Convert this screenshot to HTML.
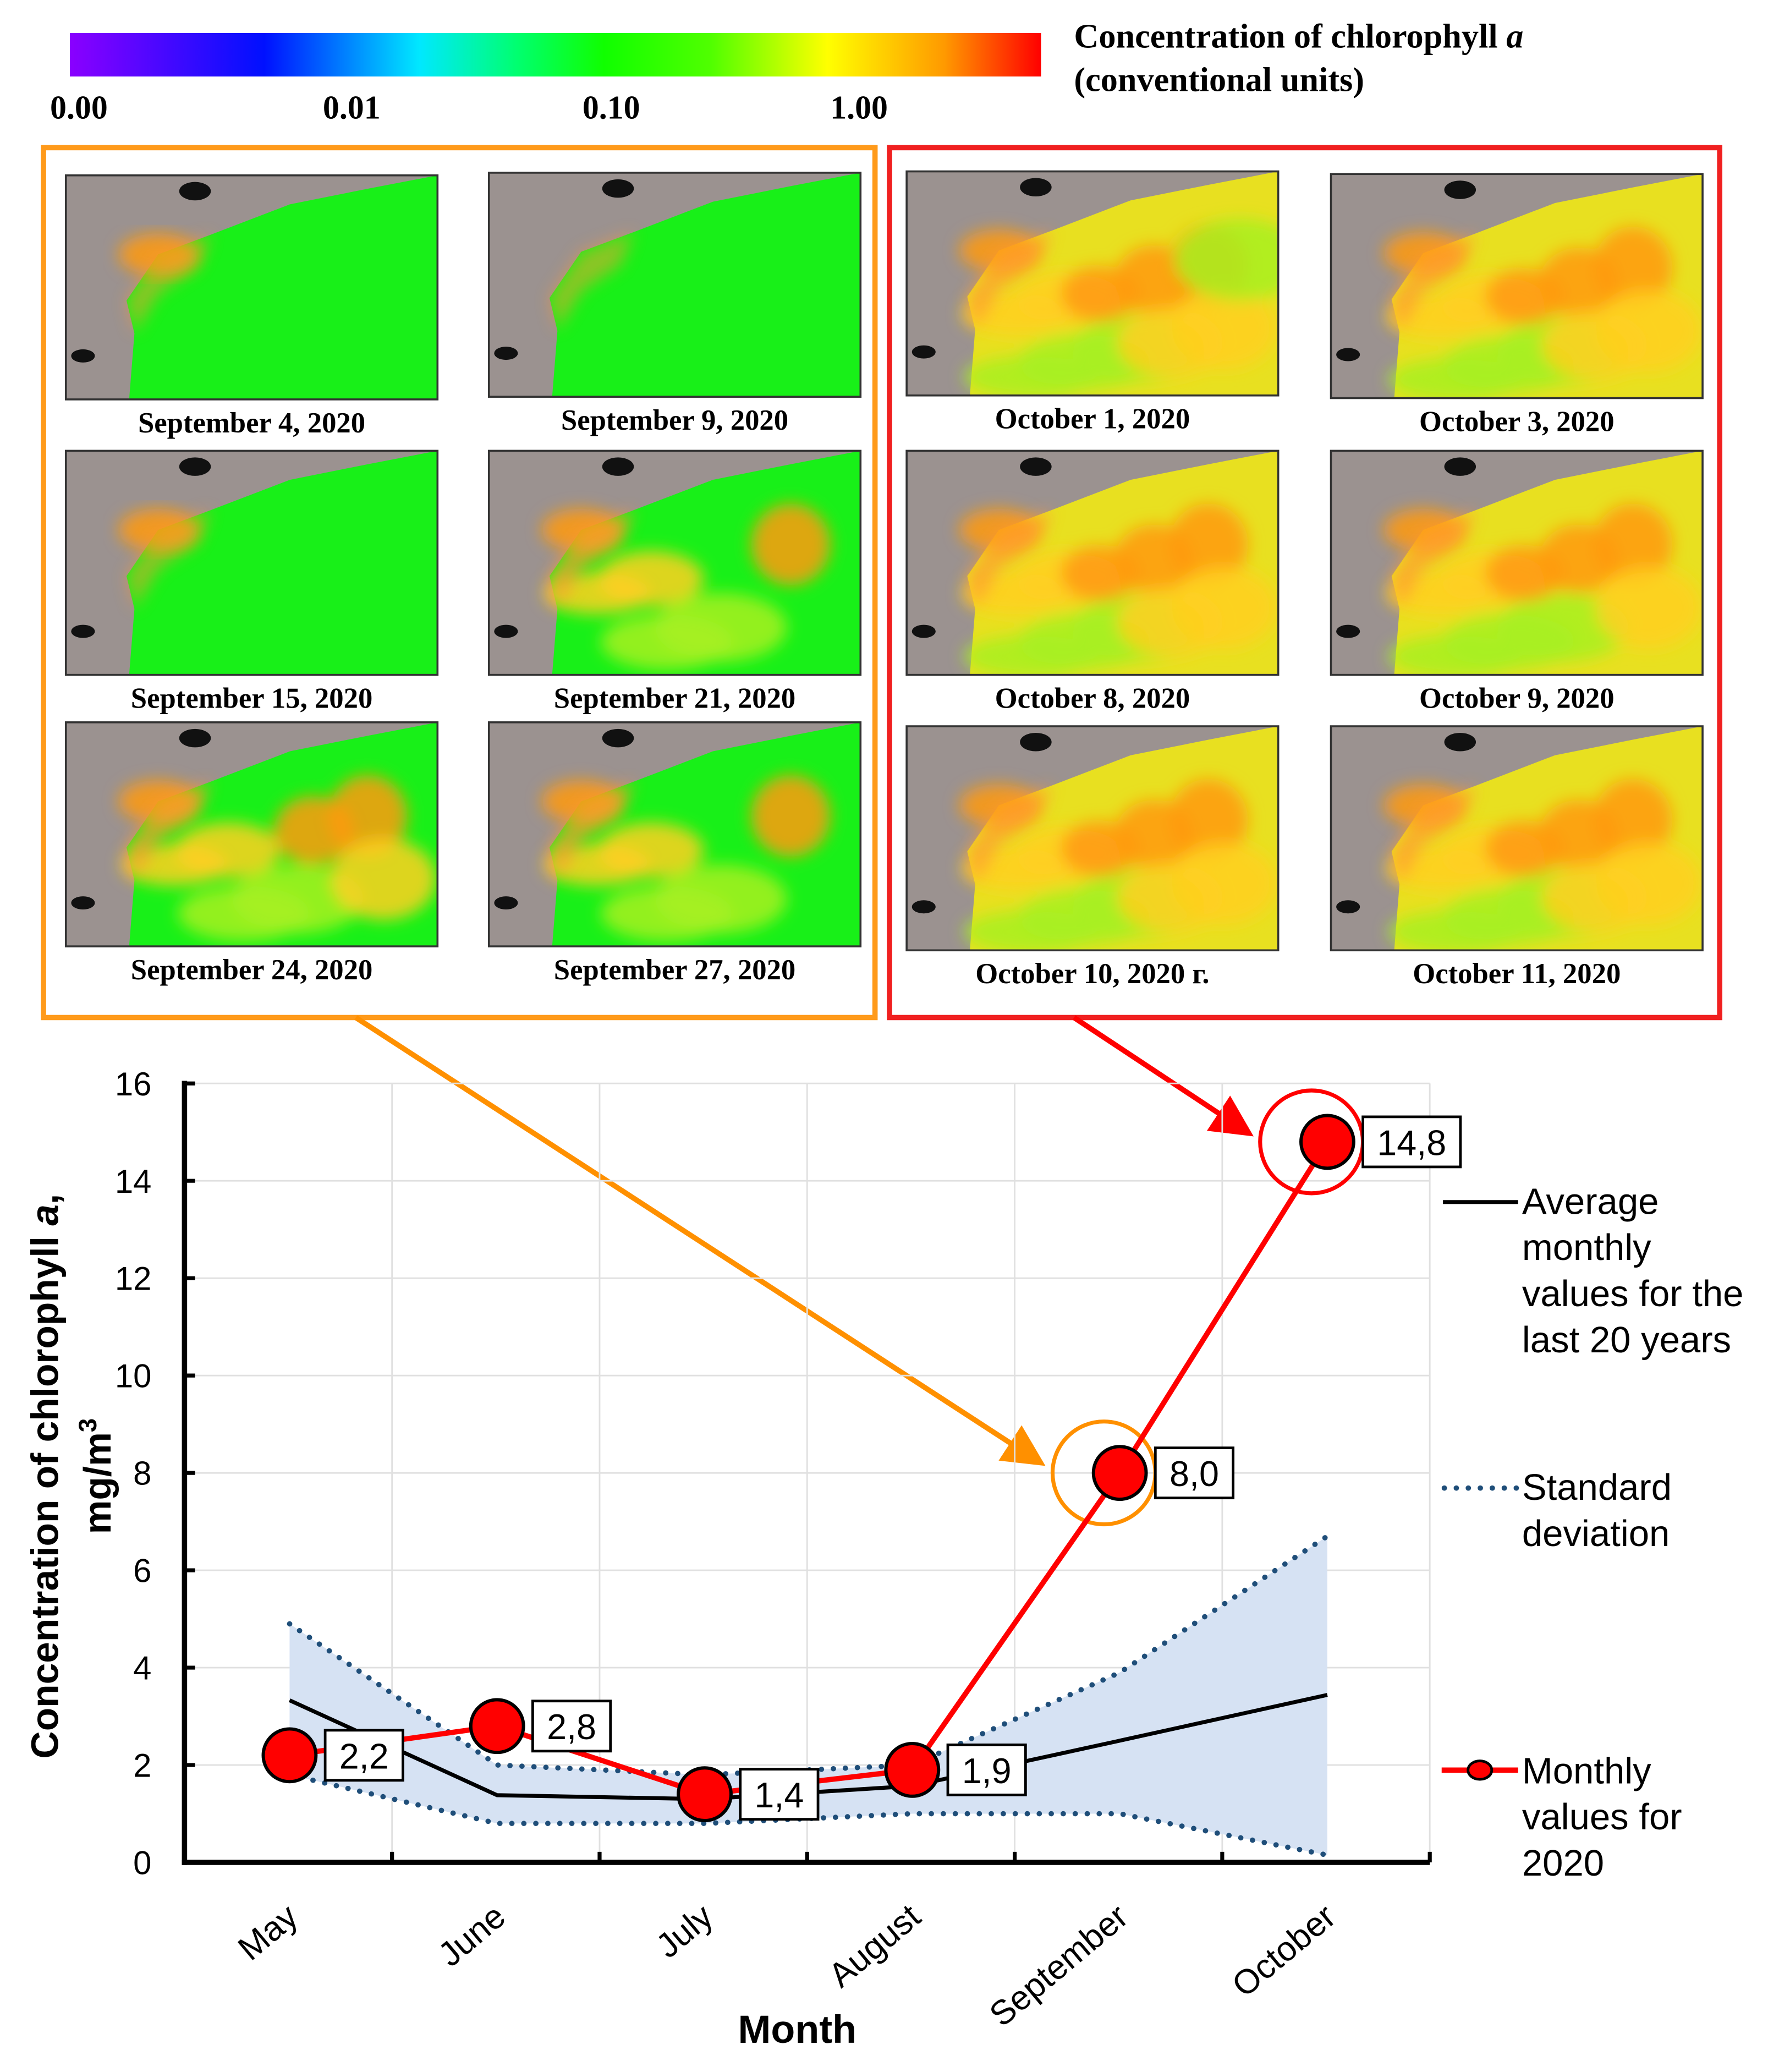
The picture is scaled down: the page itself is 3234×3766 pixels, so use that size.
<!DOCTYPE html>
<html><head><meta charset="utf-8"><style>
html,body{margin:0;padding:0;background:#fff;}
svg{display:block;}
.ser{font-family:"Liberation Serif",serif;font-weight:bold;}
.san{font-family:"Liberation Sans",sans-serif;}
</style></head><body>
<svg id="fig" width="3234" height="3766" viewBox="0 0 1350 1572" xmlns="http://www.w3.org/2000/svg">
<defs>
<linearGradient id="cbar" x1="0" x2="1" y1="0" y2="0">
<stop offset="0" stop-color="#8a00ff"/><stop offset="0.2" stop-color="#0010ff"/>
<stop offset="0.36" stop-color="#00e8ff"/><stop offset="0.46" stop-color="#00ff70"/>
<stop offset="0.55" stop-color="#10ff00"/><stop offset="0.66" stop-color="#50ff00"/>
<stop offset="0.78" stop-color="#ffff00"/><stop offset="0.9" stop-color="#ff9a00"/>
<stop offset="1" stop-color="#ff0000"/></linearGradient>
<filter id="blur" x="-20%" y="-20%" width="140%" height="140%"><feGaussianBlur stdDeviation="6"/></filter>
<clipPath id="mapclip"><rect x="0" y="0" width="282" height="170"/></clipPath>
<marker id="arrO" markerWidth="8" markerHeight="8" refX="7" refY="4" orient="auto" markerUnits="strokeWidth"><path d="M0,0 L8,4 L0,8 z" fill="#ff9000"/></marker>
<marker id="arrR" markerWidth="8" markerHeight="8" refX="7" refY="4" orient="auto" markerUnits="strokeWidth"><path d="M0,0 L8,4 L0,8 z" fill="#ff0000"/></marker>
</defs>

<rect x="53" y="25" width="737" height="33" fill="url(#cbar)"/>
<g class="ser" font-size="25">
<text x="38" y="90">0.00</text><text x="245" y="90">0.01</text><text x="442" y="90">0.10</text><text x="630" y="90">1.00</text>
</g>
<text class="ser" font-size="26" x="815" y="36">Concentration of chlorophyll <tspan font-style="italic">a</tspan></text>
<text class="ser" font-size="26" x="815" y="69">(conventional units)</text>

<rect x="33" y="112" width="631" height="660" fill="none" stroke="#ff9a1a" stroke-width="4"/>
<rect x="675" y="112" width="630" height="660" fill="none" stroke="#f02020" stroke-width="4"/>
<g id="maps"></g>

<line x1="270" y1="772" x2="790" y2="1110" stroke="#ff9000" stroke-width="4" marker-end="url(#arrO)"/>
<line x1="815" y1="772" x2="948" y2="860" stroke="#ff0000" stroke-width="4" marker-end="url(#arrR)"/>

<g id="chart"></g>
</svg>
<script>
var NS="http://www.w3.org/2000/svg";
function mk(tag,attrs,parent){var e=document.createElementNS(NS,tag);for(var k in attrs)e.setAttribute(k,attrs[k]);parent.appendChild(e);return e;}

// ---- maps ----
var mapLabels=["September 4, 2020","September 9, 2020","September 15, 2020","September 21, 2020","September 24, 2020","September 27, 2020","October 1, 2020","October 3, 2020","October 8, 2020","October 9, 2020","October 10, 2020 г.","October 11, 2020"];
var mapX=[50,371,50,371,50,371,688,1010,688,1010,688,1010];
var mapY=[133,131,342,342,548,548,130,132,342,342,551,551];
var mapWarm=[0.05,0.03,0.1,0.4,0.6,0.45,0.85,0.75,0.8,0.7,0.75,0.8];
var mg=document.getElementById('maps');
for(var i=0;i<12;i++){
  var g=mk('g',{transform:'translate('+mapX[i]+','+mapY[i]+')'},mg);
  
  
  var inner=mk('g',{'clip-path':'url(#mapclip)'},g);
  mk('rect',{x:0,y:0,width:282,height:170,fill:'#9b9290'},inner);
  var w=mapWarm[i];
  mk('path',{d:'M48,170 L52,120 L46,95 L70,60 L110,45 L170,22 L230,10 L282,0 L282,170 Z',fill: w>0.6?'#e8e020':'#18f018'},inner);
  var blobs=mk('g',{filter:'url(#blur)'},inner);
  var n=Math.round(w*14);
  for(var j=0;j<n;j++){
    var cx=70+((j*53)%200), cy=60+((j*37)%100);
    mk('ellipse',{cx:cx,cy:cy,rx:30+(j%3)*10,ry:16+(j%4)*5,fill:(j%3==0)?'#ff9a10':(j%3==1?'#ffd020':'#a8f020'),opacity:0.85},blobs);
  }
  mk('path',{d:'M52,120 L46,95 L70,60 L110,45 L100,70 L70,90 Z',fill:'#ff9a30',opacity:w>0.2?0.7:0.5,filter:'url(#blur)'},inner);
  mk('ellipse',{cx:98,cy:12,rx:12,ry:7,fill:'#111'},inner);
  mk('ellipse',{cx:13,cy:137,rx:9,ry:5,fill:'#111'},inner);
  mk('rect',{x:0,y:0,width:282,height:170,fill:'none',stroke:'#333','stroke-width':1.5},g);
  var t=mk('text',{x:mapX[i]+141,y:mapY[i]+195,'text-anchor':'middle','font-size':22,'class':'ser'},mg);
  
  
  t.textContent=mapLabels[i];
}

// ---- chart ----
var months=["May","June","July","August","September","October"];
var values2020=[2.2,2.8,1.4,1.9,8.0,14.8];
var valueLabels=["2,2","2,8","1,4","1,9","8,0","14,8"];
var avg20=[3.33,1.38,1.3,1.57,2.5,3.44];
var sdUpper=[4.9,2.0,1.8,2.0,3.9,6.7];
var sdLower=[1.8,0.8,0.8,1.0,1.0,0.15];
var yTicks=[0,2,4,6,8,10,12,14,16];

var X0=140,X1=1085,Y0=1413,Y16=822,band=(X1-X0)/6;
function xs(i){return X0+band*(i+0.5)+1;}
function ys(v){return Y0-(Y0-Y16)*v/16;}
var c=document.getElementById('chart');

for(var k=1;k<yTicks.length;k++){var gl=mk('line',{x1:X0,x2:X1,y1:ys(yTicks[k]),y2:ys(yTicks[k]),stroke:'#e0e0e0','stroke-width':1.2},c);

}
for(var k=1;k<=6;k++){var vl=mk('line',{x1:X0+band*k,x2:X0+band*k,y1:Y16,y2:Y0,stroke:'#e0e0e0','stroke-width':1.2},c);

}

var pts=[];for(var i=0;i<6;i++)pts.push(xs(i)+','+ys(sdUpper[i]));for(var i=5;i>=0;i--)pts.push(xs(i)+','+ys(sdLower[i]));
var band1=mk('polygon',{points:pts.join(' '),fill:'#d6e2f3'},c);


function pl(arr){return arr.map(function(v,i){return xs(i)+','+ys(v);}).join(' ');}
var up=mk('polyline',{points:pl(sdUpper),fill:'none',stroke:'#1f4e79','stroke-width':4,'stroke-dasharray':'0.1 9','stroke-linecap':'round'},c);


var lo=mk('polyline',{points:pl(sdLower),fill:'none',stroke:'#1f4e79','stroke-width':4,'stroke-dasharray':'0.1 9','stroke-linecap':'round'},c);


var av=mk('polyline',{points:pl(avg20),fill:'none',stroke:'#000','stroke-width':3},c);



var ax=mk('line',{x1:X0,x2:X0,y1:Y16-2,y2:Y0+2,stroke:'#000','stroke-width':4},c);


var bx=mk('line',{x1:X0-2,x2:X1,y1:Y0,y2:Y0,stroke:'#000','stroke-width':4},c);


for(var k=0;k<yTicks.length;k++){
  mk('line',{x1:X0,x2:X0+8,y1:ys(yTicks[k]),y2:ys(yTicks[k]),stroke:'#000','stroke-width':3},c);
  var tt=mk('text',{x:X0-25,y:ys(yTicks[k])+9,'text-anchor':'end','font-size':25,'class':'san'},c);
  
  
  tt.textContent=yTicks[k];
}
for(var k=1;k<=6;k++)mk('line',{x1:X0+band*k,x2:X0+band*k,y1:Y0,y2:Y0-8,stroke:'#000','stroke-width':3},c);
for(var i=0;i<6;i++){
  var mt=mk('text',{x:0,y:0,'text-anchor':'end','font-size':26,'class':'san',transform:'translate('+(xs(i)+8)+','+(Y0+44)+') rotate(-40)'},c);
  
  
  mt.textContent=months[i];
}
var xt=mk('text',{x:605,y:1550,'text-anchor':'middle','font-size':30,'font-weight':'bold','class':'san'},c);


xt.textContent='Month';
var yt=mk('text',{x:0,y:0,'text-anchor':'middle','font-size':29,'font-weight':'bold','class':'san',transform:'translate(44,1120) rotate(-90)'},c);


yt.innerHTML='Concentration of chlorophyll <tspan font-style="italic">a</tspan>,';
var yt2=mk('text',{x:0,y:0,'text-anchor':'middle','font-size':29,'font-weight':'bold','class':'san',transform:'translate(84,1120) rotate(-90)'},c);


yt2.innerHTML='mg/m<tspan font-size="19" dy="-11">3</tspan>';

var hc1=mk('circle',{cx:xs(4)-12,cy:ys(values2020[4]),r:39,fill:'none',stroke:'#ff9000','stroke-width':3},c);


var hc2=mk('circle',{cx:xs(5)-12,cy:ys(values2020[5]),r:39,fill:'none',stroke:'#ff0000','stroke-width':3},c);



var rl=mk('polyline',{points:pl(values2020),fill:'none',stroke:'#ff0000','stroke-width':4},c);


for(var i=0;i<6;i++){
  var pt=mk('circle',{cx:xs(i),cy:ys(values2020[i]),r:20,fill:'#ff0000',stroke:'#000','stroke-width':2.5},c);
  
  
  var bw=valueLabels[i].length*15+14;
  var lb=mk('rect',{x:xs(i)+27,y:ys(values2020[i])-19,width:bw,height:38,fill:'#fff',stroke:'#000','stroke-width':2},c);
  
  
  var lt=mk('text',{x:xs(i)+27+bw/2,y:ys(values2020[i])+10,'text-anchor':'middle','font-size':27,'class':'san'},c);
  
  
  lt.textContent=valueLabels[i];
}

var lg=mk('g',{'class':'san','font-size':28},c);


mk('line',{x1:1095,x2:1152,y1:912,y2:912,stroke:'#000','stroke-width':3},lg);
['Average','monthly','values for the','last 20 years'].forEach(function(s,j){var t=mk('text',{x:1155,y:921+j*35},lg);t.textContent=s;});
mk('line',{x1:1096,x2:1152,y1:1129,y2:1129,stroke:'#1f4e79','stroke-width':4,'stroke-dasharray':'0.1 9','stroke-linecap':'round'},lg);
['Standard','deviation'].forEach(function(s,j){var t=mk('text',{x:1155,y:1138+j*35},lg);t.textContent=s;});
mk('line',{x1:1094,x2:1152,y1:1343,y2:1343,stroke:'#ff0000','stroke-width':4},lg);
mk('ellipse',{cx:1123,cy:1343,rx:9,ry:7,fill:'#ff0000',stroke:'#000','stroke-width':2},lg);
['Monthly','values for','2020'].forEach(function(s,j){var t=mk('text',{x:1155,y:1353+j*35},lg);t.textContent=s;});
</script>
</body></html>
